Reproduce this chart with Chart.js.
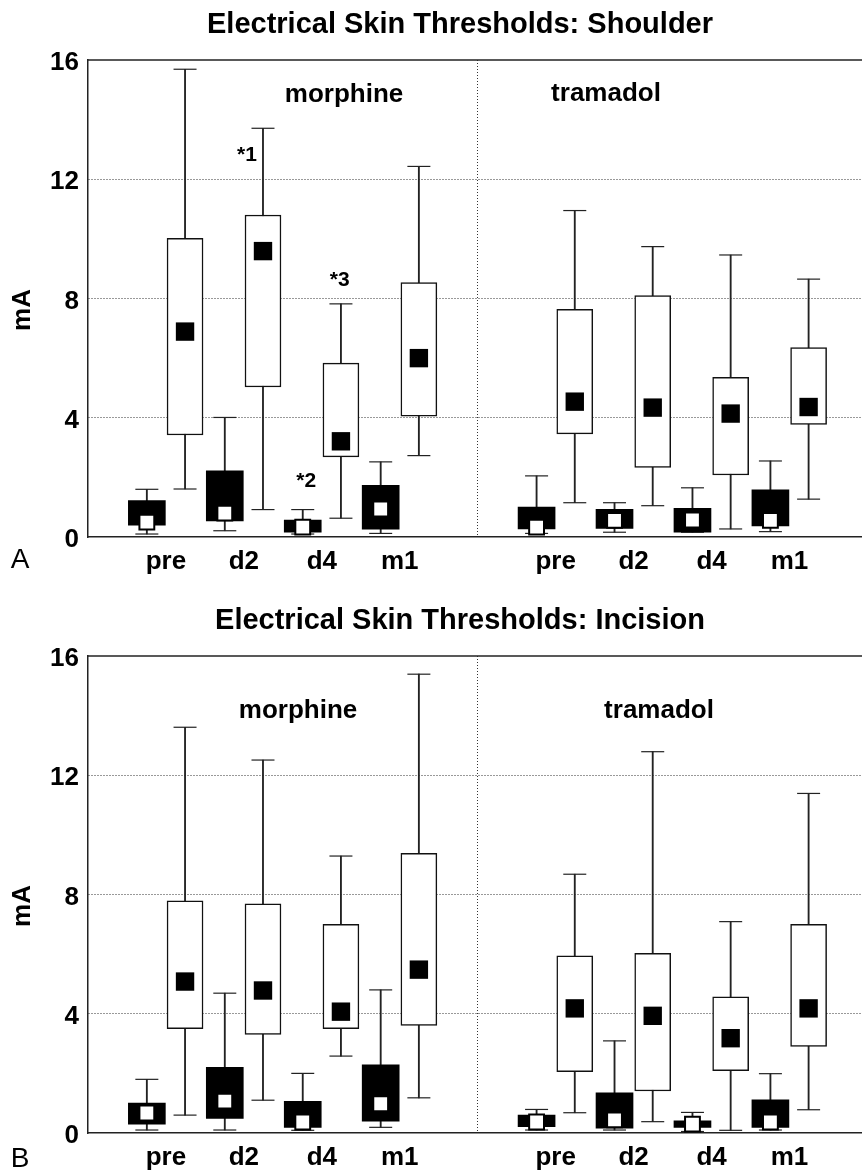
<!DOCTYPE html>
<html lang="en">
<head>
<meta charset="UTF-8">
<title>Electrical Skin Thresholds</title>
<script src="https://cdn.jsdelivr.net/npm/chart.js"></script>
<style>
  body { margin: 0; background: #fff; }
  .panel { position: absolute; left: 0; width: 862px; }
  #panelA { top: 0; height: 596px; }
  #panelB { top: 596px; height: 576px; }
</style>
</head>
<body>
<div class="panel" id="panelA"><canvas id="chartA" width="862" height="596"></canvas></div>
<div class="panel" id="panelB"><canvas id="chartB" width="862" height="576"></canvas></div>
<script>
// categories: 4 time points for each drug
const times = ['pre', 'd2', 'd4', 'm1'];
const drugs = ['morphine', 'tramadol'];
const yTicks = [0, 4, 8, 12, 16];

// A: shoulder, black boxes (morphine pre..m1, tramadol pre..m1)
const shoulderBlackMin = [0.10, 0.21, 0.10, 0.12, 0.12, 0.16, 0.16, 0.18];
const shoulderBlackQ1  = [0.40, 0.54, 0.16, 0.26, 0.27, 0.29, 0.16, 0.37];
const shoulderBlackMed = [0.50, 0.80, 0.33, 0.94, 0.33, 0.56, 0.57, 0.56];
const shoulderBlackQ3  = [1.22, 2.22, 0.57, 1.73, 1.00, 0.93, 0.96, 1.58];
const shoulderBlackMax = [1.60, 4.01, 0.92, 2.52, 2.05, 1.15, 1.65, 2.55];
// A: shoulder, white boxes
const shoulderWhiteMin = [1.61, 0.92, 0.63, 2.73, 1.15, 1.05, 0.27, 1.27];
const shoulderWhiteQ1  = [3.42, 5.03, 2.69, 4.05, 3.46, 2.33, 2.08, 3.78];
const shoulderWhiteMed = [6.89, 9.59, 3.21, 6.00, 4.54, 4.34, 4.14, 4.36];
const shoulderWhiteQ3  = [10.02, 10.80, 5.83, 8.53, 7.64, 8.10, 5.36, 6.35];
const shoulderWhiteMax = [15.69, 13.71, 7.82, 12.43, 10.95, 9.74, 9.46, 8.65];

// B: incision, black boxes
const incisionBlackMin = [0.10, 0.10, 0.09, 0.19, 0.10, 0.10, 0.05, 0.10];
const incisionBlackQ1  = [0.30, 0.49, 0.19, 0.40, 0.21, 0.16, 0.19, 0.19];
const incisionBlackMed = [0.67, 1.07, 0.37, 0.98, 0.37, 0.44, 0.30, 0.37];
const incisionBlackQ3  = [1.00, 2.20, 1.06, 2.29, 0.60, 1.35, 0.41, 1.11];
const incisionBlackMax = [1.80, 4.69, 2.00, 4.80, 0.79, 3.09, 0.69, 1.99];
// B: incision, white boxes
const incisionWhiteMin = [0.60, 1.10, 2.58, 1.18, 0.68, 0.38, 0.09, 0.78];
const incisionWhiteQ1  = [3.50, 3.31, 3.50, 3.61, 2.06, 1.41, 2.09, 2.90];
const incisionWhiteMed = [5.08, 4.78, 4.07, 5.48, 4.18, 3.93, 3.18, 4.18];
const incisionWhiteQ3  = [7.79, 7.69, 7.00, 9.38, 5.94, 6.03, 4.57, 7.00];
const incisionWhiteMax = [13.61, 12.51, 9.29, 15.39, 8.68, 12.79, 7.09, 11.39];

Chart.defaults.font.family = '"Liberation Sans", Arial, sans-serif';
Chart.defaults.color = '#000';

const FONT = '"Liberation Sans", Arial, sans-serif';
const xMax = 9.93;      // plot runs off the right edge
const pairShift = 0.245; // black box left of slot, white box right
const slotOf = i => i < 4 ? i + 1 : i + 2; // slot 5 is the divider
const tickSlots = [1, 2, 3, 4, 5, 6, 7, 8, 9];

function labelFor(v) {
  if (v >= 1 && v <= 4) return times[v - 1];
  if (v >= 6 && v <= 9) return times[v - 6];
  return '';
}

function buildPanel(canvasId, height, title, letter, blk, wht, texts) {
  const bx = blk.q1.map((_, i) => slotOf(i) - pairShift);
  const wx = wht.q1.map((_, i) => slotOf(i) + pairShift);

  const stems = [];
  const caps = [];
  bx.forEach((x, i) => {
    stems.push({x, y: [blk.min[i], blk.max[i]]});
    caps.push({x, y: blk.min[i]}, {x, y: blk.max[i]});
  });
  wx.forEach((x, i) => {
    stems.push({x, y: [wht.min[i], wht.max[i]]});
    caps.push({x, y: wht.min[i]}, {x, y: wht.max[i]});
  });

  const textPlugin = {
    id: 'panelText',
    afterDraw(chart) {
      const {ctx, chartArea, scales} = chart;
      ctx.save();
      // top frame line
      ctx.strokeStyle = '#222';
      ctx.lineWidth = 1.5;
      ctx.beginPath();
      ctx.moveTo(chartArea.left, chartArea.top);
      ctx.lineTo(chartArea.right, chartArea.top);
      ctx.stroke();

      ctx.fillStyle = '#000';
      ctx.textAlign = 'center';
      ctx.textBaseline = 'alphabetic';
      ctx.font = 'bold 29px ' + FONT;
      ctx.fillText(title, 460, 33);

      ctx.font = 'bold 26px ' + FONT;
      texts.groups.forEach(g => ctx.fillText(g.t, g.x, g.y));

      ctx.font = 'bold 21px ' + FONT;
      ctx.textBaseline = 'middle';
      texts.notes.forEach(n => {
        ctx.fillText(n.t, scales.x.getPixelForValue(n.x), scales.y.getPixelForValue(n.y));
      });

      ctx.font = '28px ' + FONT;
      ctx.textBaseline = 'alphabetic';
      ctx.fillText(letter, 20, texts.letterY);

      // y axis title
      ctx.font = 'bold 26px ' + FONT;
      ctx.translate(23, 310);
      ctx.rotate(-Math.PI / 2);
      ctx.textBaseline = 'middle';
      ctx.fillText('mA', 0, 0);
      ctx.restore();
    }
  };

  return new Chart(document.getElementById(canvasId), {
    type: 'bar',
    data: {
      datasets: [
        { type: 'bar', data: stems, backgroundColor: '#222', barThickness: 1.2, grouped: false, order: 5 },
        { type: 'scatter', data: caps, pointStyle: 'line', pointRadius: 11.5,
          pointBorderColor: '#222', pointBorderWidth: 1.2, order: 4 },
        { type: 'bar', data: bx.map((x, i) => ({x, y: [blk.q1[i], blk.q3[i]]})),
          backgroundColor: '#000', barThickness: 37, grouped: false, order: 3 },
        { type: 'bar', data: wx.map((x, i) => ({x, y: [wht.q1[i], wht.q3[i]]})),
          backgroundColor: '#fff', borderColor: '#111', borderWidth: 1.5, borderSkipped: false,
          barThickness: 36, grouped: false, order: 2 },
        { type: 'scatter', data: wx.map((x, i) => ({x, y: wht.med[i]})), pointStyle: 'rect',
          pointRadius: 13, pointBackgroundColor: '#000', pointBorderWidth: 0, order: 1 },
        { type: 'scatter', data: bx.map((x, i) => ({x, y: blk.med[i]})), pointStyle: 'rect',
          pointRadius: 10.5, pointBackgroundColor: '#fff', pointBorderColor: '#000', pointBorderWidth: 2, order: 1 }
      ]
    },
    options: {
      responsive: false,
      animation: false,
      events: [],
      layout: { autoPadding: false, padding: { top: 60, left: 0, right: 0, bottom: 0 } },
      plugins: { legend: { display: false }, tooltip: { enabled: false } },
      scales: {
        x: {
          type: 'linear', min: 0, max: xMax, offset: false,
          afterBuildTicks: s => { s.ticks = tickSlots.map(v => ({value: v})); },
          afterFit: s => { s.height = height - 537; s.paddingLeft = 0; s.paddingRight = 0; },
          ticks: { autoSkip: false, maxRotation: 0, padding: 9, color: '#000',
            font: { size: 26, weight: 'bold' }, callback: v => labelFor(v) },
          grid: { offset: false, drawTicks: false, lineWidth: 1,
            color: c => (c.tick && c.tick.value === 5) ? '#333' : 'rgba(0,0,0,0)' },
          border: { display: true, color: '#222', width: 1.5, dash: [1, 2] }
        },
        y: {
          min: 0, max: 16,
          afterBuildTicks: s => { s.ticks = yTicks.map(v => ({value: v})); },
          afterFit: s => { s.width = 88; },
          ticks: { padding: 9, labelOffset: 3, color: '#000', font: { size: 26, weight: 'bold' } },
          grid: { drawTicks: false, lineWidth: 1,
            color: c => (c.tick && c.tick.value > 0 && c.tick.value < 16) ? '#333' : 'rgba(0,0,0,0)' },
          border: { display: true, color: '#222', width: 1.5, dash: [1, 2] }
        }
      }
    },
    plugins: [textPlugin]
  });
}

buildPanel('chartA', 596, 'Electrical Skin Thresholds: Shoulder', 'A',
  { min: shoulderBlackMin, q1: shoulderBlackQ1, med: shoulderBlackMed, q3: shoulderBlackQ3, max: shoulderBlackMax },
  { min: shoulderWhiteMin, q1: shoulderWhiteQ1, med: shoulderWhiteMed, q3: shoulderWhiteQ3, max: shoulderWhiteMax },
  {
    groups: [{ t: drugs[0], x: 344, y: 102 }, { t: drugs[1], x: 606, y: 101 }],
    notes: [{ t: '*1', x: 2.04, y: 12.8 }, { t: '*2', x: 2.80, y: 1.88 }, { t: '*3', x: 3.23, y: 8.6 }],
    letterY: 568
  });

buildPanel('chartB', 576, 'Electrical Skin Thresholds: Incision', 'B',
  { min: incisionBlackMin, q1: incisionBlackQ1, med: incisionBlackMed, q3: incisionBlackQ3, max: incisionBlackMax },
  { min: incisionWhiteMin, q1: incisionWhiteQ1, med: incisionWhiteMed, q3: incisionWhiteQ3, max: incisionWhiteMax },
  {
    groups: [{ t: drugs[0], x: 298, y: 122 }, { t: drugs[1], x: 659, y: 122 }],
    notes: [],
    letterY: 571
  });
</script>
</body>
</html>
